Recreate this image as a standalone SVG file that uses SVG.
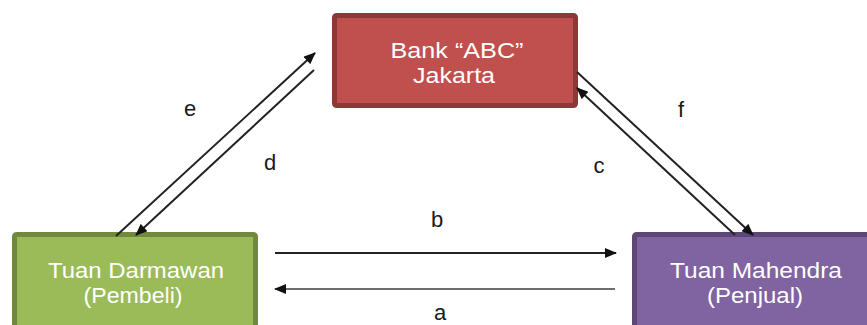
<svg xmlns="http://www.w3.org/2000/svg" width="867" height="325" viewBox="0 0 867 325">
  <style>
    .box { stroke-width: 5; }
    .bank { fill: #c0504d; stroke: #8c3836; }
    .buyer { fill: #9bbb59; stroke: #71893f; }
    .seller { fill: #8064a2; stroke: #5c4776; }
    .label { font-family: "Liberation Sans", Arial, sans-serif; font-size: 22px; fill: #ffffff; text-anchor: middle; }
    .tag { font-family: "Liberation Sans", Arial, sans-serif; font-size: 22px; fill: #1a1a1a; text-anchor: middle; }
    .flow { stroke: #222222; stroke-width: 2; fill: none; }
    .flow.light { stroke: #6e6e6e; }
  </style>
  <defs>
    <marker id="head" viewBox="0 0 12 10" refX="11" refY="5" markerWidth="13" markerHeight="10" markerUnits="userSpaceOnUse" orient="auto">
      <path d="M0,0 L12,5 L0,10 Z" fill="#111111"/>
    </marker>
  </defs>

  <g id="bank">
    <rect class="box bank" x="334.5" y="15.5" width="241" height="90" rx="2"/>
    <text class="label" x="457" y="58" textLength="133" lengthAdjust="spacingAndGlyphs">Bank “ABC”</text>
    <text class="label" x="454" y="83" textLength="82" lengthAdjust="spacingAndGlyphs">Jakarta</text>
  </g>

  <g id="buyer">
    <rect class="box buyer" x="14.5" y="234.5" width="241" height="100" rx="2"/>
    <text class="label" x="136" y="278" textLength="176" lengthAdjust="spacingAndGlyphs">Tuan Darmawan</text>
    <text class="label" x="133" y="303" textLength="99" lengthAdjust="spacingAndGlyphs">(Pembeli)</text>
  </g>

  <g id="seller">
    <rect class="box seller" x="634.5" y="234.5" width="243" height="100" rx="2"/>
    <text class="label" x="756" y="278" textLength="172" lengthAdjust="spacingAndGlyphs">Tuan Mahendra</text>
    <text class="label" x="755" y="303" textLength="96" lengthAdjust="spacingAndGlyphs">(Penjual)</text>
  </g>

  <g id="connectors">
    <line class="flow" x1="116" y1="236" x2="315" y2="53" marker-end="url(#head)"/>
    <line class="flow" x1="314" y1="70" x2="136" y2="235" marker-end="url(#head)"/>
    <line class="flow" x1="577" y1="72" x2="753" y2="235" marker-end="url(#head)"/>
    <line class="flow" x1="735" y1="235" x2="577" y2="88" marker-end="url(#head)"/>
    <line class="flow" x1="275" y1="253" x2="616" y2="253" marker-end="url(#head)"/>
    <line class="flow light" x1="615" y1="289" x2="275" y2="289" marker-end="url(#head)"/>
  </g>

  <g id="labels">
    <text class="tag" x="190" y="116">e</text>
    <text class="tag" x="270" y="170">d</text>
    <text class="tag" x="681" y="117">f</text>
    <text class="tag" x="599" y="173">c</text>
    <text class="tag" x="437" y="227">b</text>
    <text class="tag" x="440" y="320">a</text>
  </g>
</svg>
